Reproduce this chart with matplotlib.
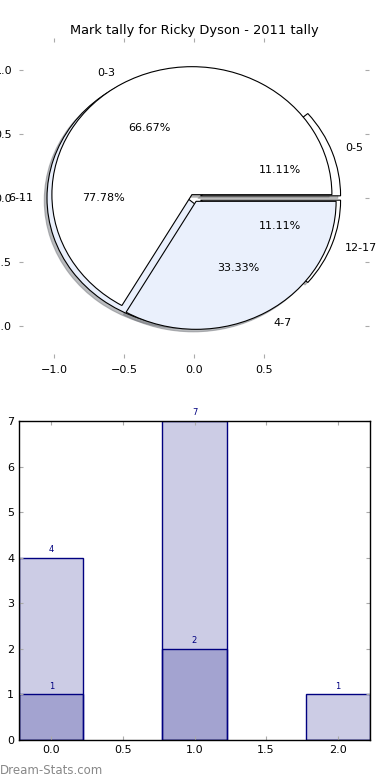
import matplotlib
matplotlib.use('Agg')
import matplotlib.pyplot as plt

# pie data
inner_labels = ['0-3', '4-7']
inner_values = [2, 1]
outer_labels = ['0-5', '6-11', '12-17']
outer_values = [1, 7, 1]

# bar data
bar_x = [0, 1, 2]
tally_all = [4, 7, 1]
tally_low = [1, 2, 0]

pie_colors = ['white', '#eaf0fc']

plt.rcParams['font.family'] = 'DejaVu Sans'
fig = plt.figure(figsize=(3.9, 7.8), dpi=100)

# --- pie ---
ax1 = fig.add_axes([19 / 390, 1 - 358 / 780, 350 / 390, 320 / 780])
wp = {'edgecolor': 'black', 'linewidth': 0.8}
shd = {'ox': -0.014, 'oy': -0.014, 'shade': 0.5}
ax1.pie(outer_values, labels=outer_labels, colors=pie_colors, explode=[0.05] * 3,
        autopct='%.2f%%', shadow=shd, wedgeprops=wp, frame=True,
        textprops={'fontsize': 8})
ax1.pie(inner_values, labels=inner_labels, colors=pie_colors, explode=[0.03] * 2,
        autopct='%.2f%%', shadow=shd, wedgeprops=wp, frame=True,
        textprops={'fontsize': 8})
ax1.set_aspect('auto')
ax1.set_xlim(-1.25, 1.25)
ax1.set_ylim(-1.25, 1.25)
ax1.set_xticks([-1.0, -0.5, 0.0, 0.5])
ax1.set_yticks([-1.0, -0.5, 0.0, 0.5, 1.0])
for s in ax1.spines.values():
    s.set_visible(False)
ax1.tick_params(direction='in', length=3, color='#aaaaaa', labelsize=8,
                top=True, right=True, pad=5)
ax1.set_title('Mark tally for Ricky Dyson - 2011 tally', fontsize=9.4, pad=3)

# --- bars ---
ax2 = fig.add_axes([19 / 390, 1 - 740 / 780, 351 / 390, 319 / 780])
bar_face = (0, 0, 0.5, 0.2)
b1 = ax2.bar(bar_x, tally_all, width=0.45, color=bar_face, edgecolor='navy', linewidth=1)
b2 = ax2.bar(bar_x, tally_low, width=0.45, color=bar_face, edgecolor='navy', linewidth=1)
for bars in (b1, b2):
    for r in bars:
        h = r.get_height()
        if h > 0:
            ax2.text(r.get_x() + r.get_width() / 2, h + 0.08, str(h),
                     ha='center', va='bottom', fontsize=6, color='navy')
ax2.set_xlim(-0.225, 2.225)
ax2.set_ylim(0, 7)
ax2.set_xticks([0.0, 0.5, 1.0, 1.5, 2.0])
ax2.set_xticklabels(['0.0', '0.5', '1.0', '1.5', '2.0'])
ax2.tick_params(direction='in', length=3, color='#aaaaaa', labelsize=8,
                top=True, right=True)
for s in ax2.spines.values():
    s.set_linewidth(1)

fig.text(0.0, 1 - 771 / 780, 'Dream-Stats.com', fontsize=8.5, color='#888888',
         va='center', ha='left')

fig.savefig('out.png', dpi=100)
